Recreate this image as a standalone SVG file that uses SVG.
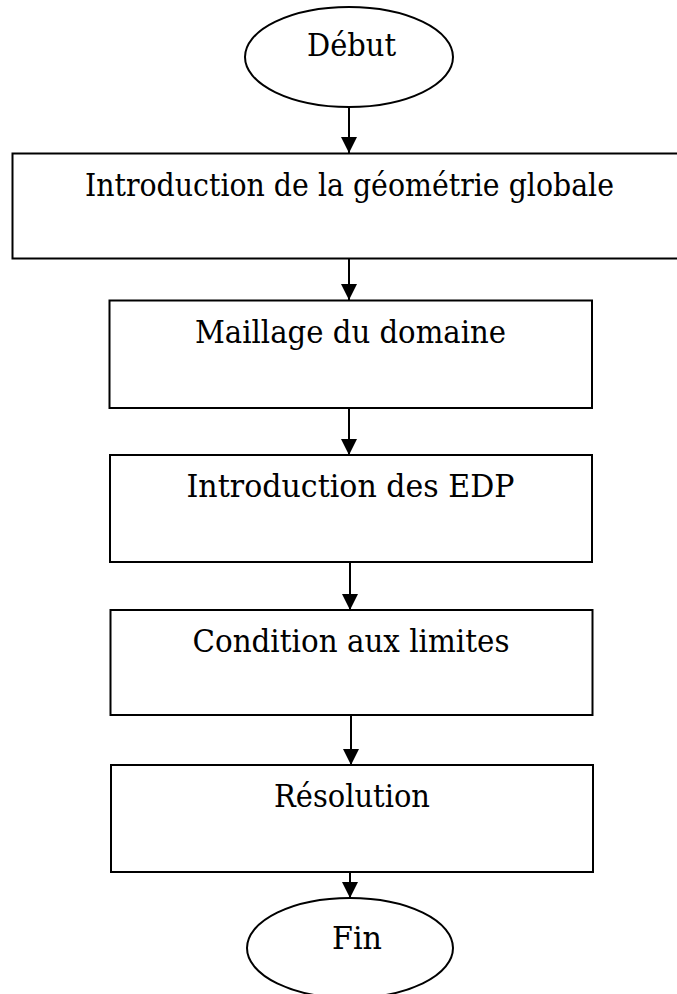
<svg xmlns="http://www.w3.org/2000/svg" width="677" height="994" viewBox="0 0 677 994">
<style>
.box{fill:#fff;stroke:#000;stroke-width:2}
.lbl{font-family:"DejaVu Serif","Liberation Serif",serif;font-size:31px;fill:#000;text-anchor:middle}
.con{stroke:#000;stroke-width:2;fill:none;marker-end:url(#ah)}
</style>
<defs>
<marker id="ah" markerUnits="userSpaceOnUse" markerWidth="16" markerHeight="16" refX="16" refY="8" orient="auto">
<path d="M0,0 L16,8 L0,16 Z" fill="#000"/>
</marker>
</defs>
<rect width="677" height="994" fill="#fff"/>
<g id="connectors">
<line class="con" x1="349" y1="107" x2="349" y2="153"/>
<line class="con" x1="349" y1="259" x2="349" y2="300"/>
<line class="con" x1="349" y1="408" x2="349" y2="455"/>
<line class="con" x1="350" y1="562" x2="350" y2="610"/>
<line class="con" x1="351" y1="715" x2="351" y2="765"/>
<line class="con" x1="350" y1="872" x2="350" y2="898"/>
</g>
<g id="debut">
<ellipse class="box" cx="349" cy="57" rx="104" ry="50"/>
<text class="lbl" x="351.5" y="56" textLength="89" lengthAdjust="spacingAndGlyphs">Début</text>
</g>
<g id="geometrie">
<rect class="box" x="12.5" y="153.5" width="680" height="105"/>
<text class="lbl" x="349.5" y="196" textLength="529" lengthAdjust="spacingAndGlyphs">Introduction de la géométrie globale</text>
</g>
<g id="maillage">
<rect class="box" x="109.5" y="300.5" width="482.5" height="107.5"/>
<text class="lbl" x="350.5" y="343" textLength="311" lengthAdjust="spacingAndGlyphs">Maillage du domaine</text>
</g>
<g id="edp">
<rect class="box" x="110" y="455" width="482" height="107"/>
<text class="lbl" x="350.5" y="497" textLength="328" lengthAdjust="spacingAndGlyphs">Introduction des EDP</text>
</g>
<g id="limites">
<rect class="box" x="110.5" y="610" width="482" height="105"/>
<text class="lbl" x="351" y="652" textLength="317" lengthAdjust="spacingAndGlyphs">Condition aux limites</text>
</g>
<g id="resolution">
<rect class="box" x="111" y="765" width="482" height="107"/>
<text class="lbl" x="352" y="807" textLength="156" lengthAdjust="spacingAndGlyphs">Résolution</text>
</g>
<g id="fin">
<ellipse class="box" cx="350" cy="948" rx="103" ry="50"/>
<text class="lbl" x="357" y="949" textLength="50" lengthAdjust="spacingAndGlyphs">Fin</text>
</g>
</svg>
